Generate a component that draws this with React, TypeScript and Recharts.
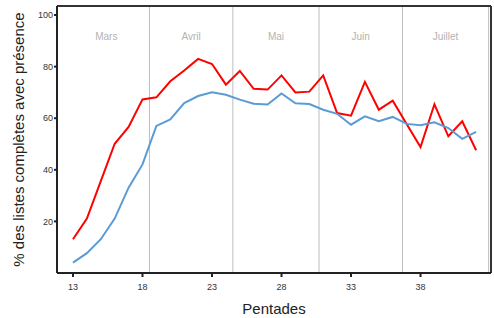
import {
  LineChart,
  Line,
  XAxis,
  YAxis,
  ReferenceLine,
  ReferenceArea,
} from 'recharts';

const pentades = [
  13, 14, 15, 16, 17, 18, 19, 20, 21, 22, 23, 24, 25, 26, 27, 28, 29, 30, 31, 32,
  33, 34, 35, 36, 37, 38, 39, 40, 41, 42,
];

const redSeries = [
  13.1, 21.1, 35.6, 50.1, 56.6, 67.3, 68.1, 74.3, 78.5, 83.0, 81.0, 73.0, 78.3, 71.4,
  71.1, 76.6, 70.0, 70.3, 76.6, 62.0, 61.0, 74.1, 63.3, 66.8, 57.8, 48.8, 65.4, 53.0,
  58.8, 47.6,
];

const blueSeries = [
  4.0, 7.7, 13.1, 21.1, 33.1, 42.1, 57.0, 59.5, 65.9, 68.6, 70.1, 69.1, 67.2, 65.6,
  65.3, 69.6, 65.8, 65.5, 63.3, 61.7, 57.5, 60.7, 58.8, 60.5, 57.8, 57.3, 58.4, 56.2,
  52.0, 54.7,
];

const months = ['Mars', 'Avril', 'Mai', 'Juin', 'Juillet'];
const monthStarts = [12.3, 18.5, 24.5, 30.7, 36.7];
const monthEnds = [18.5, 24.5, 30.7, 36.7, 42.9];

const xTicks = [13, 18, 23, 28, 33, 38];
const yTicks = [20, 40, 60, 80, 100];

const xDomain = [11.85, 43.07];
const yDomain = [0, 103.5];

const data = pentades.map((p, i) => ({
  pentade: p,
  red: redSeries[i],
  blue: blueSeries[i],
}));

const font = '"Liberation Sans", Arial, sans-serif';

export default function App() {
  return (
    <div style={{ position: 'absolute', left: 0, top: 0, fontFamily: font }}>
      <LineChart
        width={494}
        height={318}
        data={data}
        margin={{ top: 6, right: 3, bottom: 0, left: 0 }}
      >
        {months.map((m, i) => (
          <ReferenceArea
            key={m}
            x1={monthStarts[i]}
            x2={monthEnds[i]}
            fillOpacity={0}
            stroke="none"
            label={{
              value: m,
              position: 'insideTop',
              offset: 27,
              fill: '#b3b3b3',
              fontSize: 10,
              fontFamily: font,
            }}
          />
        ))}
        {monthEnds.map((b) => (
          <ReferenceLine key={b} x={b} stroke="#bdbdbd" strokeWidth={1} />
        ))}
        <ReferenceLine y={yDomain[1]} stroke="#333" strokeWidth={2} ifOverflow="visible" />
        <ReferenceLine x={xDomain[1]} stroke="#333" strokeWidth={2} ifOverflow="visible" />
        <XAxis
          dataKey="pentade"
          type="number"
          domain={xDomain}
          ticks={xTicks}
          allowDataOverflow
          stroke="#222"
          strokeWidth={2}
          tickSize={4}
          tickMargin={7}
          tick={{ fill: '#333', fontSize: 9, fontFamily: font }}
          height={45}
          label={{
            value: 'Pentades',
            position: 'insideBottom',
            offset: 4,
            fill: '#222',
            fontSize: 15,
            fontFamily: font,
          }}
        />
        <YAxis
          type="number"
          domain={yDomain}
          ticks={yTicks}
          allowDataOverflow
          width={57}
          stroke="#222"
          strokeWidth={2}
          tickSize={3}
          tickMargin={1}
          tick={{ fill: '#333', fontSize: 9, fontFamily: font }}
          label={{
            content: () => (
              <text
                x={24}
                y={139.5}
                transform="rotate(-90, 24, 139.5)"
                textAnchor="middle"
                fill="#222"
                fontSize={15}
                fontFamily={font}
              >
                % des listes complètes avec présence
              </text>
            ),
          }}
        />
        <Line
          dataKey="red"
          stroke="#ff0000"
          strokeWidth={2}
          dot={false}
          isAnimationActive={false}
        />
        <Line
          dataKey="blue"
          stroke="#5b9bd5"
          strokeWidth={2}
          dot={false}
          isAnimationActive={false}
        />
      </LineChart>
    </div>
  );
}
